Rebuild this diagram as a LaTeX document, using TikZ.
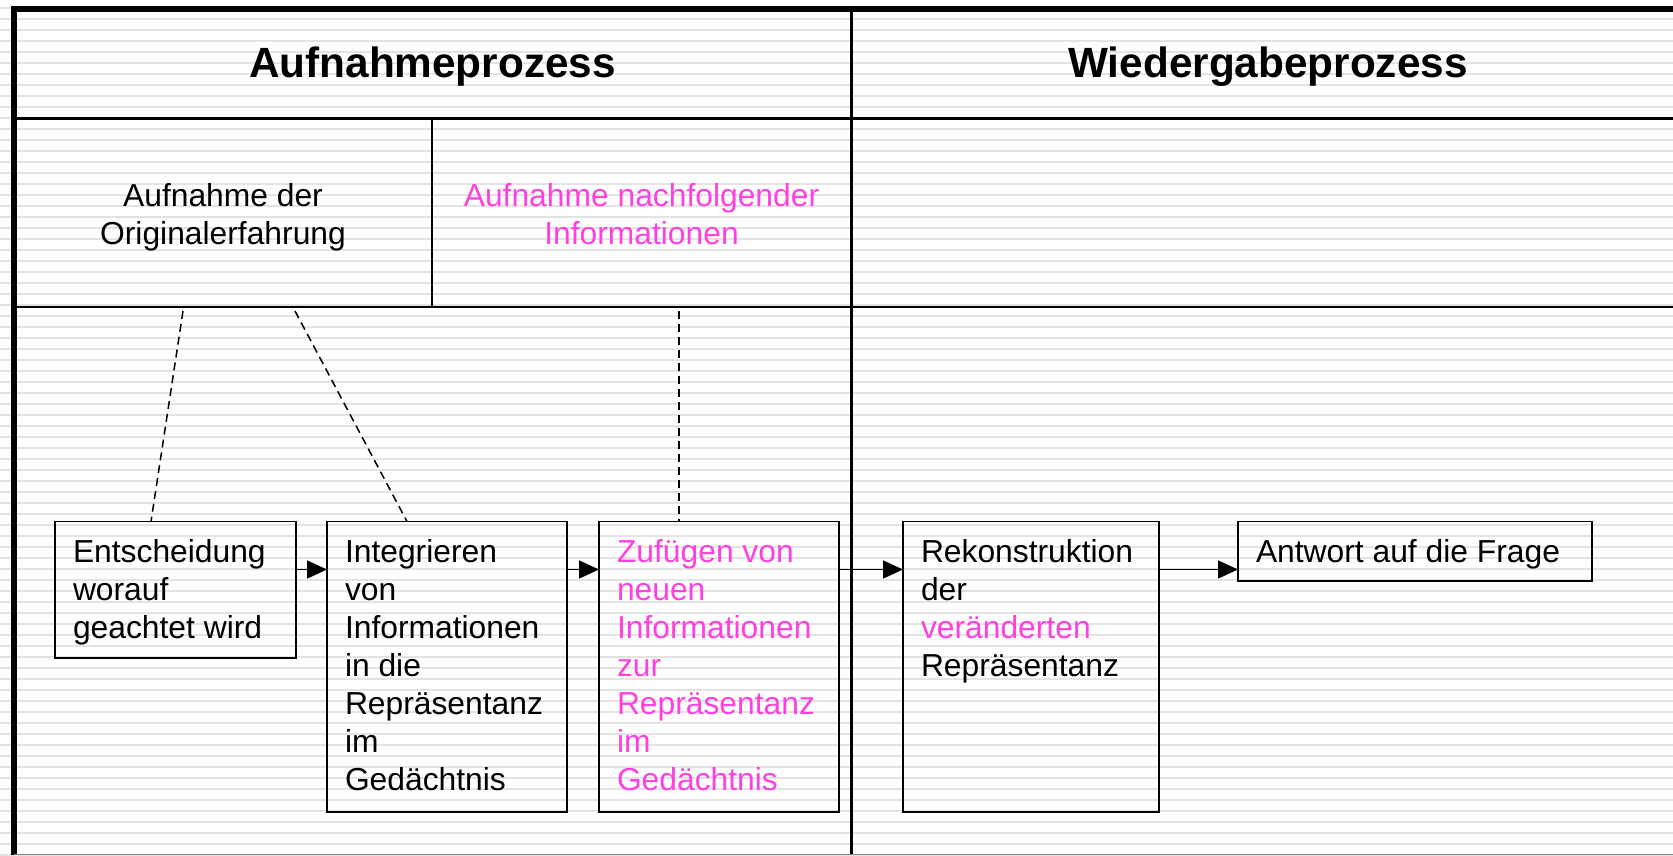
\documentclass[tikz,border=0pt]{standalone}
\usepackage{fontspec}
\setmainfont{Liberation Sans}
\usepackage{tikz}
\usetikzlibrary{arrows.meta, positioning, calc}
\definecolor{stripegray}{HTML}{E3E3E3}
\definecolor{notepink}{HTML}{FF40E0}
\newcommand{\boxtxt}[3]{\parbox[t][#2][t]{#1}{\raggedright\rule{0pt}{41pt}#3}}

\begin{document}
\begin{tikzpicture}[x=1pt, y=-1pt]
  \tikzset{
    stripe/.style={fill=stripegray},
    gridline/.style={line width=2.5pt},
    stepbox/.style={draw, line width=1.8pt, anchor=north west, inner xsep=18pt, inner ysep=0pt, outer sep=0pt, font=\fontsize{31.8}{38}\selectfont},
    head/.style={font=\bfseries\fontsize{42.3}{50}\selectfont},
    cell/.style={align=center, font=\fontsize{31.8}{38}\selectfont},
    flow/.style={line width=1.5pt, -{Triangle[length=20pt, width=18pt]}},
    hint/.style={line width=1.5pt, dash pattern=on 8pt off 5pt}
  }
  \useasboundingbox (0,0) rectangle (1673,855);
  \fill[white] (0,0) rectangle (1673,855);

  % ruled background
  \foreach \k in {0,...,77} {
    \fill[stripe] (0,{6.75+11*\k}) rectangle (1673,{9.25+11*\k});
  }

  % table grid
  \draw[line width=5.5pt] (14,6) -- (14,855);
  \draw[line width=6pt] (11,9) -- (1673,9);
  \draw[gridline, line width=3pt] (14,118.5) -- (1673,118.5);
  \draw[gridline] (14,307) -- (1673,307);
  \draw[gridline, line width=3pt] (851,9) -- (851,855);
  \draw[gridline, line width=2.2pt] (432,118.5) -- (432,307);
  \draw[gray, line width=1.5pt] (14,854.5) -- (1673,854.5);

  % column heads
  \node[head] (aufn) at (432.5,67) {Aufnahmeprozess};
  \node[head] (wied) at (1268,67) {Wiedergabeprozess};

  \node[cell] (orig) at (223,217) {Aufnahme der\\Originalerfahrung};
  \node[cell, notepink] (nachf) at (641.5,214) {Aufnahme nachfolgender\\Informationen};

  % process steps
  \node[stepbox] (b1) at (55,521.5) {\boxtxt{205pt}{136.5pt}{Entscheidung\\worauf\\geachtet wird}};
  \node[stepbox] (b2) at (327,521.5) {\boxtxt{204pt}{290.5pt}{Integrieren\\von\\Informationen\\in die\\Repräsentanz\\im\\Gedächtnis}};
  \node[stepbox] (b3) at (599,521.5) {\boxtxt{204pt}{290.5pt}{\color{notepink}Zufügen von\\neuen\\Informationen\\zur\\Repräsentanz\\im\\Gedächtnis}};
  \node[stepbox] (b4) at (903,521.5) {\boxtxt{220pt}{290.5pt}{Rekonstruktion\\der\\{\color{notepink}veränderten}\\Repräsentanz}};
  \node[stepbox] (b5) at (1238,521.5) {\boxtxt{318pt}{59.5pt}{Antwort auf die Frage}};

  \draw[flow] ([yshift=-48pt]b1.north east) -- ([yshift=-48pt]b2.north west);
  \draw[flow] ([yshift=-48pt]b2.north east) -- ([yshift=-48pt]b3.north west);
  \draw[flow] ([yshift=-48pt]b3.north east) -- ([yshift=-48pt]b4.north west);
  \draw[flow] ([yshift=-48pt]b4.north east) -- ([yshift=-48pt]b5.north west);

  % links to the upper row
  \coordinate (d1) at (183,311);
  \coordinate (d2) at (295,311);
  \coordinate (d3) at (679,311);
  \draw[hint] (d1) -- ([xshift=96pt]b1.north west);
  \draw[hint] (d2) -- ([xshift=80pt]b2.north west);
  \draw[hint] (d3) -- ([xshift=80pt]b3.north west);
\end{tikzpicture}
\end{document}
